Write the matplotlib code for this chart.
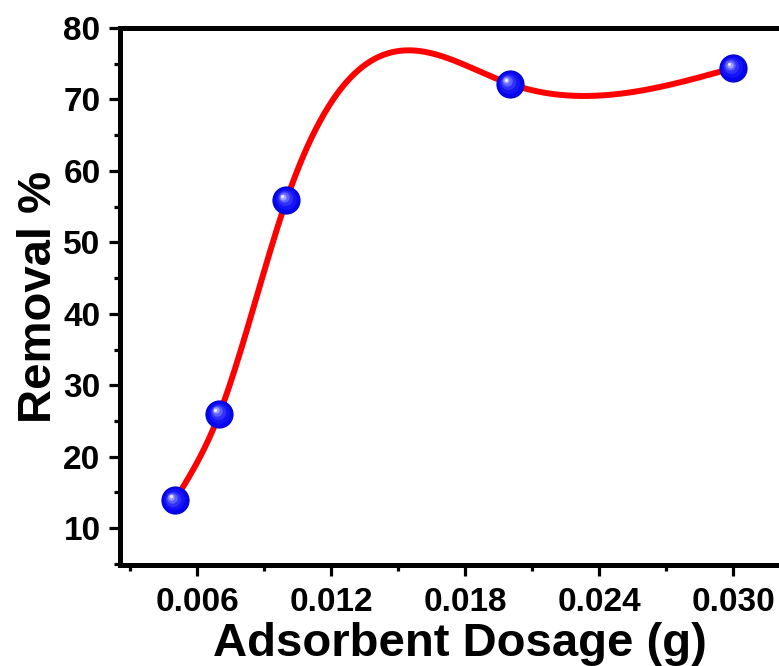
import numpy as np
import matplotlib
matplotlib.use("Agg")
import matplotlib.pyplot as plt
from matplotlib.ticker import MultipleLocator, FormatStrFormatter
import matplotlib.transforms as mtransforms

# data
dosage = [0.005, 0.007, 0.010, 0.020, 0.030]
removal = [13.9, 26.0, 55.9, 72.2, 74.4]
xticks = [0.006, 0.012, 0.018, 0.024, 0.030]
yticks = [10, 20, 30, 40, 50, 60, 70, 80]
xlabel = "Adsorbent Dosage (g)"
ylabel = "Removal %"


def natural_spline(x, y, xs):
    x = np.asarray(x, float); y = np.asarray(y, float)
    n = len(x)
    h = np.diff(x)
    A = np.zeros((n, n)); b = np.zeros(n)
    A[0, 0] = 1; A[-1, -1] = 1
    for i in range(1, n - 1):
        A[i, i - 1] = h[i - 1]
        A[i, i] = 2 * (h[i - 1] + h[i])
        A[i, i + 1] = h[i]
        b[i] = 6 * ((y[i + 1] - y[i]) / h[i] - (y[i] - y[i - 1]) / h[i - 1])
    M = np.linalg.solve(A, b)
    idx = np.clip(np.searchsorted(x, xs) - 1, 0, n - 2)
    xi, xi1 = x[idx], x[idx + 1]
    hi = h[idx]
    t1 = xi1 - xs; t0 = xs - xi
    return (M[idx] * t1**3 / (6 * hi) + M[idx + 1] * t0**3 / (6 * hi)
            + (y[idx] / hi - M[idx] * hi / 6) * t1
            + (y[idx + 1] / hi - M[idx + 1] * hi / 6) * t0)


plt.rcParams['font.family'] = ['Liberation Sans', 'DejaVu Sans']
plt.rcParams['font.weight'] = 'bold'

fig = plt.figure(figsize=(7.79, 6.66), dpi=100)
W, H = 779, 666
left, bottom, top = 120 / W, 1 - 565 / H, 1 - 28 / H
xmin, xmax = 0.00255, 0.0330
px_per_unit = 134 / 0.006
width = (xmax - xmin) * px_per_unit / W
ax = fig.add_axes([left, bottom, width, top - bottom])

xs = np.linspace(dosage[0], dosage[-1], 400)
ys = natural_spline(dosage, removal, xs)
ax.plot(xs, ys, color='#ff0000', lw=4.3, zorder=2, solid_capstyle='round')

# spheres: base + shading layers
ax.plot(dosage, removal, 'o', ms=19.5, color='#0505f0', mec='#0000c8', mew=0.8, zorder=3)
shades = [(15, '#1414f5', -0.6), (11, '#3030fa', -1.3), (7.5, '#6060ff', -2.0),
          (4.5, '#a0a0ff', -2.5), (2.2, '#f0f0ff', -2.8)]
for ms, col, off in shades:
    tr = mtransforms.offset_copy(ax.transData, fig=fig, x=off, y=-off, units='points')
    ax.plot(dosage, removal, 'o', ms=ms, color=col, mew=0, zorder=4, transform=tr)

ax.set_xlim(xmin, xmax)
ax.set_ylim(4.85, 80)
ax.set_xticks(xticks)
ax.set_yticks(yticks)
ax.xaxis.set_minor_locator(MultipleLocator(0.003))
ax.yaxis.set_minor_locator(MultipleLocator(5))
ax.xaxis.set_major_formatter(FormatStrFormatter('%.3f'))

for s in ['left', 'bottom', 'top']:
    ax.spines[s].set_linewidth(3.6)
ax.spines['right'].set_visible(False)

ax.tick_params(which='major', direction='out', length=8, width=2.3,
               labelsize=24, pad=6)
ax.tick_params(axis='x', which='major', pad=7.5)
ax.tick_params(axis='y', which='major', pad=6)
ax.tick_params(which='minor', direction='out', length=4, width=2.3)
ax.tick_params(top=False, right=False, which='both')
for lab in ax.get_xticklabels() + ax.get_yticklabels():
    lab.set_fontweight('bold')

ax.set_xlabel(xlabel, fontsize=34, fontweight='bold', labelpad=3)
ax.set_ylabel(ylabel, fontsize=34, fontweight='bold', labelpad=2)

fig.savefig('out.png', dpi=100)
